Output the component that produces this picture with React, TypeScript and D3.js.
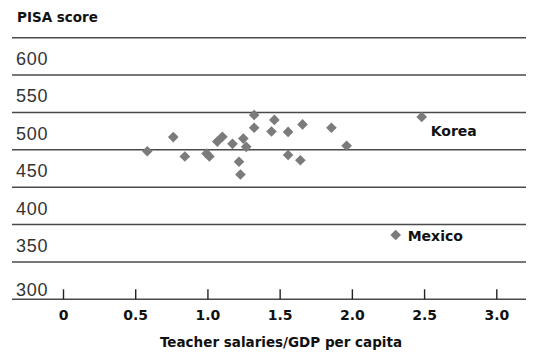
import React from "react";
import * as d3 from "d3";

const salaryRatio = [0.58, 0.76, 0.84, 0.99, 1.01, 1.065, 1.1, 1.17, 1.215, 1.225, 1.245, 1.265, 1.32, 1.32, 1.46, 1.44, 1.555, 1.655, 1.555, 1.64, 1.855, 1.96, 2.48, 2.3];
const pisaScore = [498, 517, 491, 495, 491, 511, 517.5, 508, 484, 467, 515, 504, 546.5, 529.5, 540, 524.5, 524, 534, 493, 486, 529.5, 505.5, 544, 386];
const pointLabels = ["", "", "", "", "", "", "", "", "", "", "", "", "", "", "", "", "", "", "", "", "", "", "Korea", "Mexico"];
const xTicks = [0, 0.5, 1.0, 1.5, 2.0, 2.5, 3.0];
const xTickLabels = ["0", "0.5", "1.0", "1.5", "2.0", "2.5", "3.0"];
const yGrid = [300, 350, 400, 450, 500, 550, 600, 650];
const yTickLabels = ["300", "350", "400", "450", "500", "550", "600", ""];
const yTitle = "PISA score";
const xTitle = "Teacher salaries/GDP per capita";

const W = 536;
const H = 353;

export default function App() {
  const x = d3.scaleLinear().domain([0, 3]).range([63.5, 496.8]);
  const y = d3.scaleLinear().domain([300, 650]).range([299.3, 37.7]);
  const font = "'Liberation Sans', Arial, sans-serif";
  const boldFont = "'DejaVu Sans', sans-serif";
  const diamond = d3.symbol().type(d3.symbolDiamond2).size(72)();
  const data = salaryRatio.map((v, i) => ({ x: v, y: pisaScore[i], label: pointLabels[i] }));

  return (
    <svg
      width={W}
      height={H}
      style={{ position: "absolute", left: 0, top: 0, background: "#fff" }}
      fontFamily={font}
    >
      <text x={17} y={22} fontSize={13.5} fontWeight="bold" fill="#111" fontFamily={boldFont}>
        {yTitle}
      </text>
      {yGrid.map((v, i) => (
        <g key={v}>
          <line x1={12} x2={526} y1={y(v)} y2={y(v)} stroke="#4a4a4a" strokeWidth={1.4} />
          {yTickLabels[i] && (
            <text
              x={16}
              y={v === 300 ? y(v) - 3 : y(v) - 10}
              fontSize={18}
              fill="#333"
              letterSpacing={0.8}
            >
              {yTickLabels[i]}
            </text>
          )}
        </g>
      ))}
      {xTicks.map((t, i) => (
        <g key={t}>
          <line x1={x(t)} x2={x(t)} y1={y(300) - 10} y2={y(300)} stroke="#222" strokeWidth={1.4} />
          <text
            x={x(t)}
            y={319.5}
            textAnchor="middle"
            fontSize={14}
            fontWeight="bold"
            fill="#111"
            fontFamily={boldFont}
          >
            {xTickLabels[i]}
          </text>
        </g>
      ))}
      <text x={281} y={347} textAnchor="middle" fontSize={13.5} fontWeight="bold" fill="#111" fontFamily={boldFont}>
        {xTitle}
      </text>
      {data.map((d, i) => (
        <path key={i} d={diamond} transform={`translate(${x(d.x)},${y(d.y)})`} fill="#7b7b7b" />
      ))}
      {data
        .filter((d) => d.label)
        .map((d) => {
          const isKorea = d.label === "Korea";
          return (
            <text
              key={d.label}
              x={isKorea ? x(d.x) + 9 : x(d.x) + 12}
              y={isKorea ? y(d.y) + 19 : y(d.y) + 6}
              fontSize={14}
              fontWeight="bold"
              fill="#111"
              fontFamily={boldFont}
            >
              {d.label}
            </text>
          );
        })}
    </svg>
  );
}
